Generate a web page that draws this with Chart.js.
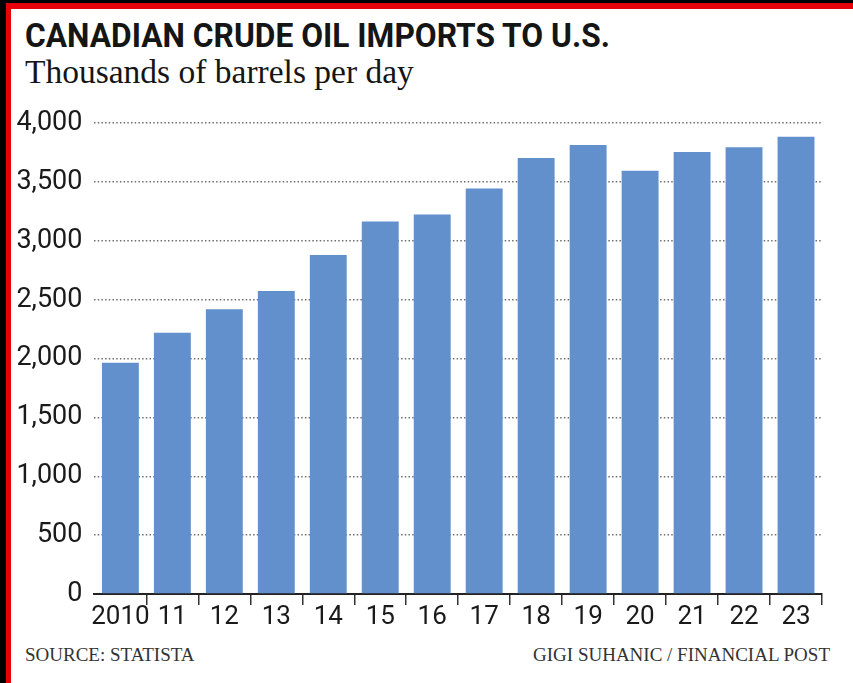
<!DOCTYPE html>
<html lang="en">
  <head>
    <meta charset="UTF-8" />
    <title>Canadian crude oil imports to U.S.</title>
    <script src="https://cdn.jsdelivr.net/npm/chart.js"></script>
    <style>
      html,
      body {
        margin: 0;
        padding: 0;
        width: 853px;
        height: 683px;
        background: #000;
        overflow: hidden;
      }

      .frame {
        position: absolute;
        left: 6px;
        top: 3px;
        right: 0;
        bottom: 0;
        border-top: 6px solid #e8000b;
        border-left: 5px solid #e8000b;
        background: #fff;
      }

      .text {
        position: absolute;
        line-height: 1;
        white-space: nowrap;
        color: #151515;
        transform-origin: left top;
      }

      .title {
        left: 25px;
        top: 18px;
        font-family: Roboto, sans-serif;
        font-weight: bold;
        font-size: 34px;
      }

      .subtitle {
        left: 25px;
        top: 55px;
        font-family: 'Liberation Serif', serif;
        font-size: 33.5px;
      }

      .footer {
        top: 645px;
        font-family: 'Liberation Serif', serif;
        font-size: 19px;
        color: #333;
      }

      .source {
        left: 25px;
      }

      .credit {
        right: 23px;
      }

      .chart-box {
        position: absolute;
        left: 11px;
        top: 95px;
        width: 842px;
        height: 545px;
      }
    </style>
  </head>
  <body>
    <div class="frame"></div>
    <div class="text title" data-width="585">CANADIAN CRUDE OIL IMPORTS TO U.S.</div>
    <div class="text subtitle">Thousands of barrels per day</div>
    <div class="chart-box"><canvas id="chart"></canvas></div>
    <div class="text footer source">SOURCE: STATISTA</div>
    <div class="text footer credit">GIGI SUHANIC / FINANCIAL POST</div>

    <script>
      // years on the x axis, short form after the first one
      const years = ['2010', '11', '12', '13', '14', '15', '16', '17', '18', '19', '20', '21', '22', '23'];
      // thousands of barrels per day
      const imports = [1965, 2220, 2420, 2575, 2880, 3165, 3225, 3445, 3705, 3815, 3595, 3755, 3795, 3885];
      const yTicks = [0, 500, 1000, 1500, 2000, 2500, 3000, 3500, 4000];

      // squeeze the headline into a condensed look
      document.querySelectorAll('[data-width]').forEach((el) => {
        const k = Number(el.dataset.width) / el.offsetWidth;
        el.style.transform = `scaleX(${k})`;
      });

      const axisFamily = 'Roboto, sans-serif';

      new Chart(document.getElementById('chart'), {
        type: 'bar',
        data: {
          labels: years,
          datasets: [
            {
              data: imports,
              backgroundColor: '#6190cd',
              categoryPercentage: 1,
              barPercentage: 0.71,
            },
          ],
        },
        options: {
          responsive: true,
          maintainAspectRatio: false,
          animation: false,
          layout: { padding: { top: 11, right: 31, bottom: 0, left: 0 } },
          plugins: {
            legend: { display: false },
            tooltip: { enabled: false },
          },
          scales: {
            x: {
              grid: {
                offset: true,
                drawOnChartArea: false,
                tickLength: 11,
                lineWidth: 1.5,
                // no tick at the two outer edges
                color: (ctx) =>
                  ctx.index === 0 || ctx.index === years.length ? 'rgba(0,0,0,0)' : '#333',
              },
              border: { color: '#222', width: 2 },
              ticks: {
                color: '#1a1a1a',
                font: { family: axisFamily, size: 26 },
                padding: -3,
                maxRotation: 0,
                autoSkip: false,
              },
              afterFit: (scale) => {
                scale.height = 46;
              },
            },
            y: {
              min: 0,
              max: 4000,
              z: 1,
              afterBuildTicks: (scale) => {
                scale.ticks = yTicks.map((v) => ({ value: v }));
              },
              grid: {
                drawTicks: false,
                lineWidth: 1.5,
                color: (ctx) => (ctx.tick && ctx.tick.value === 0 ? 'rgba(0,0,0,0)' : '#6f6f6f'),
              },
              border: { display: false, dash: [1.5, 2.2] },
              ticks: {
                color: '#1a1a1a',
                font: { family: axisFamily, size: 27 },
                padding: 12,
                callback: (v) => v.toLocaleString('en-US'),
              },
              afterFit: (scale) => {
                scale.width = 83.4;
              },
            },
          },
        },
      });
    </script>
  </body>
</html>
